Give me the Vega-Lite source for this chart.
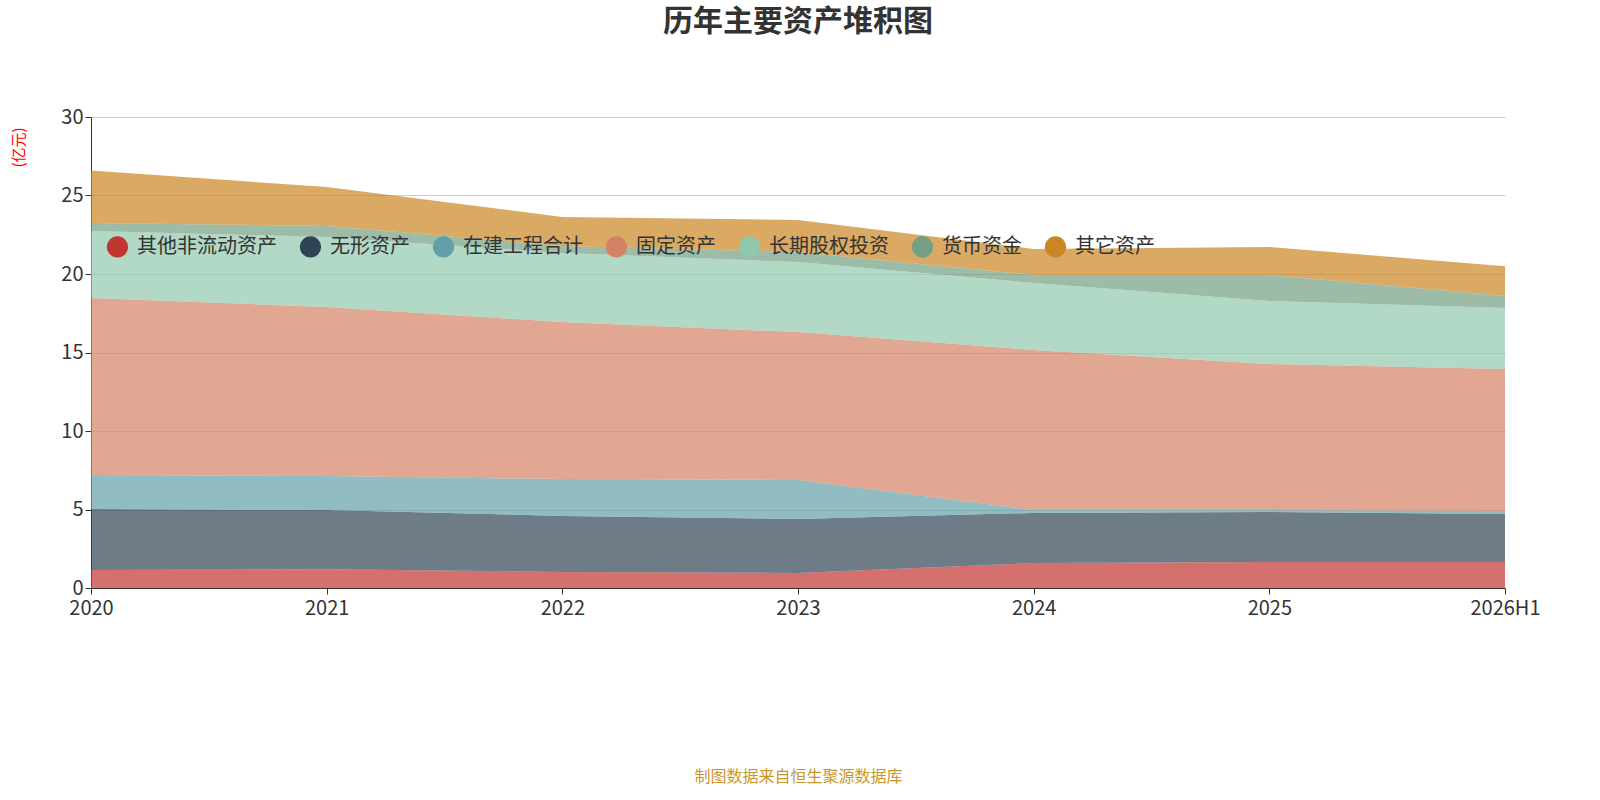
{
  "$schema": "https://vega.github.io/schema/vega-lite/v6.json",
  "autosize": "none",
  "width": 1414,
  "height": 471,
  "padding": {"left": 91, "top": 117, "right": 95, "bottom": 212},
  "background": "white",
  "title": {"text": "历年主要资产堆积图", "fontSize": 30, "fontWeight": "bold", "color": "#333", "anchor": "middle", "offset": 70, "font": "Noto Sans CJK SC"},
  "config": {"font": "Noto Sans CJK SC", "view": {"stroke": null}},
  "data": {"values": [
    {"y": "2020", "t": "其他非流动资产", "k": 1, "v": 1.15},
    {"y": "2020", "t": "无形资产", "k": 2, "v": 3.88},
    {"y": "2020", "t": "在建工程合计", "k": 3, "v": 2.17},
    {"y": "2020", "t": "固定资产", "k": 4, "v": 11.27},
    {"y": "2020", "t": "长期股权投资", "k": 5, "v": 4.27},
    {"y": "2020", "t": "货币资金", "k": 6, "v": 0.51},
    {"y": "2020", "t": "其它资产", "k": 7, "v": 3.35},
    {"y": "2021", "t": "其他非流动资产", "k": 1, "v": 1.2},
    {"y": "2021", "t": "无形资产", "k": 2, "v": 3.77},
    {"y": "2021", "t": "在建工程合计", "k": 3, "v": 2.16},
    {"y": "2021", "t": "固定资产", "k": 4, "v": 10.77},
    {"y": "2021", "t": "长期股权投资", "k": 5, "v": 4.46},
    {"y": "2021", "t": "货币资金", "k": 6, "v": 0.7},
    {"y": "2021", "t": "其它资产", "k": 7, "v": 2.48},
    {"y": "2022", "t": "其他非流动资产", "k": 1, "v": 1.02},
    {"y": "2022", "t": "无形资产", "k": 2, "v": 3.57},
    {"y": "2022", "t": "在建工程合计", "k": 3, "v": 2.35},
    {"y": "2022", "t": "固定资产", "k": 4, "v": 10.0},
    {"y": "2022", "t": "长期股权投资", "k": 5, "v": 4.4},
    {"y": "2022", "t": "货币资金", "k": 6, "v": 0.44},
    {"y": "2022", "t": "其它资产", "k": 7, "v": 1.85},
    {"y": "2023", "t": "其他非流动资产", "k": 1, "v": 0.96},
    {"y": "2023", "t": "无形资产", "k": 2, "v": 3.43},
    {"y": "2023", "t": "在建工程合计", "k": 3, "v": 2.49},
    {"y": "2023", "t": "固定资产", "k": 4, "v": 9.42},
    {"y": "2023", "t": "长期股权投资", "k": 5, "v": 4.46},
    {"y": "2023", "t": "货币资金", "k": 6, "v": 0.64},
    {"y": "2023", "t": "其它资产", "k": 7, "v": 2.04},
    {"y": "2024", "t": "其他非流动资产", "k": 1, "v": 1.59},
    {"y": "2024", "t": "无形资产", "k": 2, "v": 3.19},
    {"y": "2024", "t": "在建工程合计", "k": 3, "v": 0.19},
    {"y": "2024", "t": "固定资产", "k": 4, "v": 10.19},
    {"y": "2024", "t": "长期股权投资", "k": 5, "v": 4.27},
    {"y": "2024", "t": "货币资金", "k": 6, "v": 0.51},
    {"y": "2024", "t": "其它资产", "k": 7, "v": 1.66},
    {"y": "2025", "t": "其他非流动资产", "k": 1, "v": 1.66},
    {"y": "2025", "t": "无形资产", "k": 2, "v": 3.18},
    {"y": "2025", "t": "在建工程合计", "k": 3, "v": 0.13},
    {"y": "2025", "t": "固定资产", "k": 4, "v": 9.3},
    {"y": "2025", "t": "长期股权投资", "k": 5, "v": 4.01},
    {"y": "2025", "t": "货币资金", "k": 6, "v": 1.66},
    {"y": "2025", "t": "其它资产", "k": 7, "v": 1.78},
    {"y": "2026H1", "t": "其他非流动资产", "k": 1, "v": 1.66},
    {"y": "2026H1", "t": "无形资产", "k": 2, "v": 3.05},
    {"y": "2026H1", "t": "在建工程合计", "k": 3, "v": 0.19},
    {"y": "2026H1", "t": "固定资产", "k": 4, "v": 9.05},
    {"y": "2026H1", "t": "长期股权投资", "k": 5, "v": 3.88},
    {"y": "2026H1", "t": "货币资金", "k": 6, "v": 0.77},
    {"y": "2026H1", "t": "其它资产", "k": 7, "v": 1.9}
  ]},
  "mark": {"type": "area", "opacity": 0.7, "line": false},
  "encoding": {
    "x": {"field": "y", "type": "ordinal", "scale": {"type": "point", "padding": 0},
      "axis": {"labelAngle": 0, "labelFontSize": 20, "labelColor": "#333", "domainColor": "#333", "tickColor": "#333", "tickSize": 6, "labelPadding": 4,
        "title": "制图数据来自恒生聚源数据库", "titleColor": "#c8962a", "titleFontSize": 16, "titleFontWeight": "normal", "titlePadding": 150}},
    "y": {"field": "v", "type": "quantitative", "stack": "zero", "scale": {"domain": [0, 30]},
      "axis": {"values": [0, 5, 10, 15, 20, 25, 30], "labelFontSize": 20, "labelColor": "#333", "domainColor": "#333", "tickColor": "#333", "tickSize": 6,
        "gridColor": "#ccc", "title": "(亿元)", "titleColor": "red", "titleFontSize": 15, "titleFontWeight": "normal", "titleX": -65, "titleY": 30, "titleAlign": "center"}},
    "order": {"field": "k", "type": "quantitative"},
    "color": {"field": "t", "type": "nominal",
      "scale": {"domain": ["其他非流动资产", "无形资产", "在建工程合计", "固定资产", "长期股权投资", "货币资金", "其它资产"],
        "range": ["#c23531", "#2f4554", "#61a0a8", "#d48265", "#91c7ae", "#749f83", "#ca8622"]},
      "legend": {"orient": "none", "direction": "horizontal", "legendX": 15, "legendY": 118, "title": null, "labelFontSize": 20, "labelColor": "#333",
        "symbolType": "circle", "symbolSize": 450, "symbolOpacity": 1, "columnPadding": 22, "labelOffset": 8}}
  }
}
